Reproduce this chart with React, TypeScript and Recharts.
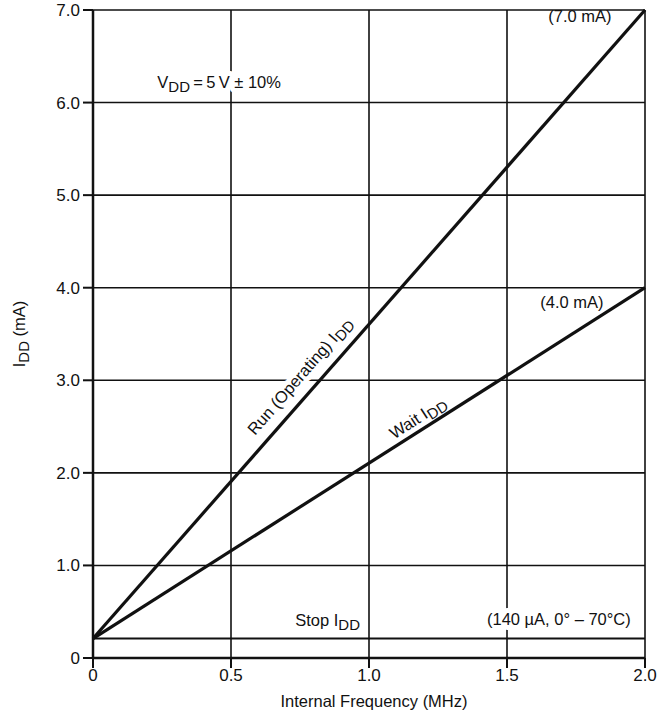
import { CartesianGrid, Line, LineChart, ReferenceDot, XAxis, YAxis } from 'recharts';

// Supply current vs internal frequency
const frequency = [0, 2.0];
const runIdd = [0.21, 7.0];
const waitIdd = [0.21, 4.0];
const stopIdd = [0.21, 0.21];

const xTicks = [0, 0.5, 1.0, 1.5, 2.0];
const yTicks = [0, 1, 2, 3, 4, 5, 6, 7];

interface Note {
  x: number;
  y: number;
  pre: string;
  sub?: string;
  post?: string;
  angle: number;
  halo?: boolean;
}

const notes: Note[] = [
  { x: 0.457, y: 6.22, pre: 'V', sub: 'DD', post: '\u2009=\u20095\u2009V ± 10%', angle: 0, halo: true },
  { x: 1.764, y: 6.94, pre: '(7.0 mA)', angle: 0 },
  { x: 1.735, y: 3.85, pre: '(4.0 mA)', angle: 0 },
  { x: 0.748, y: 3.05, pre: 'Run (Operating) I', sub: 'DD', angle: -49, halo: true },
  { x: 1.176, y: 2.6, pre: 'Wait I', sub: 'DD', angle: -33 },
  { x: 0.85, y: 0.41, pre: 'Stop I', sub: 'DD', angle: 0 },
  { x: 1.688, y: 0.42, pre: '(140 µA, 0° – 70°C)', angle: 0, halo: true },
];

const rows = frequency.map((f, i) => ({
  f,
  run: runIdd[i],
  wait: waitIdd[i],
  stop: stopIdd[i],
}));

const INK = '#111';
const FONT = '"Liberation Sans", Arial, Helvetica, sans-serif';

function fmt(v: number): string {
  return v === 0 ? '0' : v.toFixed(1);
}

function NoteText({ cx, cy, note }: { cx: number; cy: number; note: Note }) {
  const body = (halo: boolean) => (
    <text
      x={cx}
      y={cy}
      textAnchor="middle"
      dominantBaseline="central"
      fontSize={16.5}
      fontFamily={FONT}
      fill={halo ? '#fff' : INK}
      stroke={halo ? '#fff' : 'none'}
      strokeWidth={halo ? 10 : 0}
      strokeLinejoin="round"
    >
      {note.pre}
      {note.sub && (
        <tspan dy={4} fontSize={15}>
          {note.sub}
        </tspan>
      )}
      {note.post && <tspan dy={-4}>{note.post}</tspan>}
    </text>
  );
  return (
    <g transform={note.angle ? `rotate(${note.angle} ${cx} ${cy})` : undefined}>
      {note.halo && body(true)}
      {body(false)}
    </g>
  );
}

function YTitle(props: any) {
  const vb = props.viewBox ?? { x: 0, y: 0, width: 0, height: 0 };
  const cx = 19;
  const cy = vb.y + vb.height / 2;
  return (
    <text
      x={cx}
      y={cy}
      transform={`rotate(-90 ${cx} ${cy})`}
      textAnchor="middle"
      dominantBaseline="central"
      fontSize={16.5}
      fontFamily={FONT}
      fill={INK}
    >
      I<tspan dy={4} fontSize={15}>DD</tspan>
      <tspan dy={-4}> (mA)</tspan>
    </text>
  );
}

function XTitle(props: any) {
  const vb = props.viewBox ?? { x: 0, y: 0, width: 0, height: 0 };
  return (
    <text
      x={vb.x + vb.width / 2 + 5}
      y={701}
      textAnchor="middle"
      dominantBaseline="central"
      fontSize={16.5}
      fontFamily={FONT}
      fill={INK}
    >
      Internal Frequency (MHz)
    </text>
  );
}

export default function App() {
  return (
    <div style={{ position: 'absolute', left: 0, top: 0, background: '#fff' }}>
      <LineChart
        width={660}
        height={715}
        data={rows}
        margin={{ top: 10, right: 15, left: 33, bottom: 7 }}
        style={{ fontFamily: FONT }}
      >
        <CartesianGrid stroke={INK} strokeWidth={1.6} />
        <XAxis
          dataKey="f"
          type="number"
          domain={[0, 2]}
          ticks={xTicks}
          tickFormatter={fmt}
          height={50}
          axisLine={{ stroke: INK, strokeWidth: 2.5 }}
          tickLine={{ stroke: INK, strokeWidth: 2 }}
          tickSize={10}
          tickMargin={1}
          tick={{ fill: INK, fontSize: 17 }}
          label={{ content: XTitle }}
        />
        <YAxis
          type="number"
          domain={[0, 7]}
          ticks={yTicks}
          tickFormatter={fmt}
          width={60}
          axisLine={{ stroke: INK, strokeWidth: 2.5 }}
          tickLine={{ stroke: INK, strokeWidth: 2 }}
          tickSize={10}
          tickMargin={3}
          tick={{ fill: INK, fontSize: 17 }}
          label={{ content: YTitle }}
        />
        <Line dataKey="stop" stroke={INK} strokeWidth={2} dot={false} isAnimationActive={false} />
        <Line dataKey="wait" stroke={INK} strokeWidth={3.2} dot={false} isAnimationActive={false} />
        <Line dataKey="run" stroke={INK} strokeWidth={3.2} dot={false} isAnimationActive={false} />
        {notes.map((n) => (
          <ReferenceDot
            key={n.pre + (n.post ?? '')}
            x={n.x}
            y={n.y}
            r={0}
            ifOverflow="visible"
            shape={(p: any) => <NoteText cx={p.cx} cy={p.cy} note={n} />}
          />
        ))}
      </LineChart>
    </div>
  );
}
